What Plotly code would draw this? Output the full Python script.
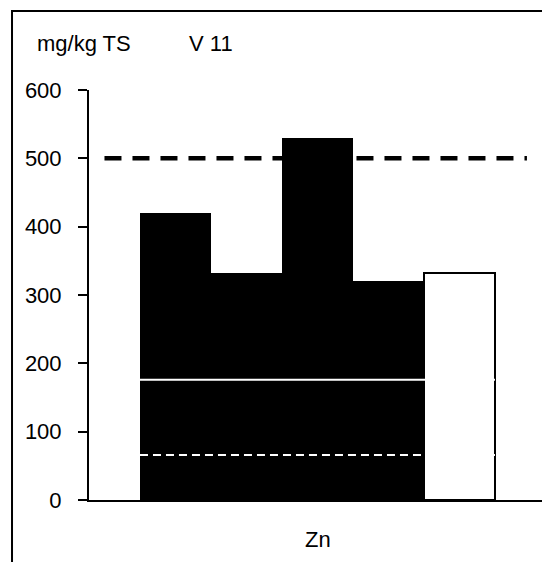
import plotly.graph_objects as go

# Data
black_pos = [0, 1, 2, 3]
black_vals = [420, 332, 530, 320]
white_pos = [4]
white_vals = [332]
limit_black_dashed = 500
limit_white_solid = 176
limit_white_dashed = 66
line_black_x = [-1.0, 4.95]
line_white_x = [-0.5, 4.5]
y_ticks = [0, 100, 200, 300, 400, 500, 600]
unit_label = "mg/kg TS"
station_label = "V 11"
element_label = "Zn"

FONT = "Liberation Sans, Arial, sans-serif"
FS = 22

fig = go.Figure()
fig.add_trace(go.Bar(x=black_pos, y=black_vals, width=1,
                     marker=dict(color="black", line=dict(color="black", width=0)),
                     showlegend=False))
fig.add_trace(go.Bar(x=white_pos, y=white_vals, width=1,
                     marker=dict(color="white", line=dict(color="black", width=2)),
                     showlegend=False))
fig.add_trace(go.Scatter(x=line_white_x, y=[limit_white_solid]*2, mode="lines",
                         line=dict(color="white", width=2), showlegend=False))
fig.add_trace(go.Scatter(x=line_white_x, y=[limit_white_dashed]*2, mode="lines",
                         line=dict(color="white", width=2, dash="8px,5px"), showlegend=False))
fig.add_trace(go.Scatter(x=line_black_x, y=[limit_black_dashed]*2, mode="lines",
                         line=dict(color="black", width=4.5, dash="17px,11px"), showlegend=False))

fig.update_layout(
    width=542, height=554,
    margin=dict(l=81, r=0, t=82, b=62, pad=0),
    paper_bgcolor="white", plot_bgcolor="white",
    barmode="overlay", bargap=0,
    font=dict(family=FONT, size=FS, color="black"),
    xaxis=dict(range=[-1.218, 5.275], showticklabels=False, ticks="",
               showgrid=False, zeroline=False, showline=True,
               linecolor="black", linewidth=2, fixedrange=True),
    yaxis=dict(range=[0, 600], tickvals=y_ticks, ticks="outside", ticklen=9,
               tickwidth=1.5, tickcolor="black", showgrid=False, zeroline=False,
               showline=True, linecolor="black", linewidth=2,
               tickfont=dict(size=FS, family=FONT), ticklabelstandoff=12),
    annotations=[
        dict(text=unit_label, xref="paper", yref="paper", x=-0.117, y=1.1146,
             xanchor="left", yanchor="middle", showarrow=False,
             font=dict(size=FS, family=FONT)),
        dict(text=station_label, xref="paper", yref="paper", x=0.2646, y=1.1146,
             xanchor="center", yanchor="middle", showarrow=False,
             font=dict(size=FS, family=FONT)),
        dict(text=element_label, xref="paper", yref="paper", x=0.497, y=0,
             yshift=-39, xanchor="center", yanchor="middle", showarrow=False,
             font=dict(size=FS, family=FONT)),
    ],
    shapes=[
        dict(type="rect", xref="paper", yref="paper", x0=-0.167, x1=1.3,
             y0=-0.5, y1=1.1927, line=dict(color="black", width=2),
             fillcolor="rgba(0,0,0,0)", layer="above"),
    ],
)

fig.write_html("out.html")
